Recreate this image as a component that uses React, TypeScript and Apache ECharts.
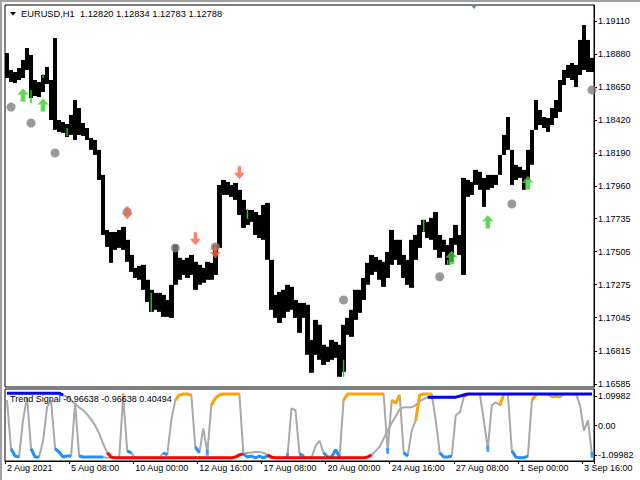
import React, { useEffect, useRef } from 'react';
import * as echarts from 'echarts';

// Price path, one entry per 4-hour column (high / low of the column)
const highs = [
  1.18887, 1.18769, 1.18755, 1.18783, 1.18839, 1.18922, 1.18873, 1.18699, 1.18685, 1.18734,
  1.18790, 1.18699, 1.18991, 1.18421, 1.18407, 1.18393, 1.18456, 1.18560, 1.18504, 1.18400,
  1.18365, 1.18296, 1.18282, 1.18213, 1.18039, 1.17656, 1.17642, 1.17642, 1.17656, 1.17677,
  1.17587, 1.17482, 1.17392, 1.17406, 1.17413, 1.17309, 1.17239, 1.17218, 1.17218, 1.17204,
  1.17169, 1.17274, 1.17552, 1.17462, 1.17448, 1.17462, 1.17482, 1.17434, 1.17413, 1.17392,
  1.17434, 1.17427, 1.17552, 1.17969, 1.18004, 1.17990, 1.17969, 1.17983, 1.17935, 1.17865,
  1.17795, 1.17795, 1.17781, 1.17760, 1.17830, 1.17844, 1.17448, 1.17204, 1.17225, 1.17239,
  1.17274, 1.17260, 1.17169, 1.17148, 1.17148, 1.17135, 1.16891, 1.17030, 1.16996, 1.16857,
  1.16843, 1.16891, 1.16877, 1.16857, 1.16996, 1.17044, 1.17100, 1.17239, 1.17239, 1.17322,
  1.17427, 1.17482, 1.17468, 1.17448, 1.17434, 1.17503, 1.17656, 1.17587, 1.17587, 1.17482,
  1.17448, 1.17587, 1.17621, 1.17691, 1.17726, 1.17712, 1.17740, 1.17781, 1.17621, 1.17587,
  1.17552, 1.17600, 1.17691, 1.17621, 1.18018, 1.18004, 1.17990, 1.18074, 1.18060, 1.18018,
  1.18039, 1.18039, 1.18039, 1.18178, 1.18317, 1.18442, 1.18213, 1.18109, 1.18095, 1.18074,
  1.18213, 1.18352, 1.18560, 1.18491, 1.18442, 1.18435, 1.18504, 1.18560, 1.18699, 1.18769,
  1.18804, 1.18818, 1.18804, 1.18978, 1.19082, 1.18978, 1.18853,
];
const lows = [
  1.18713, 1.18685, 1.18678, 1.18699, 1.18713, 1.18769, 1.18574, 1.18588, 1.18581, 1.18616,
  1.18671, 1.18421, 1.18352, 1.18338, 1.18331, 1.18303, 1.18317, 1.18282, 1.18317, 1.18310,
  1.18282, 1.18213, 1.18178, 1.18004, 1.17621, 1.17538, 1.17427, 1.17517, 1.17531, 1.17517,
  1.17434, 1.17364, 1.17322, 1.17309, 1.17239, 1.17155, 1.17086, 1.17100, 1.17086, 1.17051,
  1.17051, 1.17044, 1.17274, 1.17309, 1.17343, 1.17322, 1.17343, 1.17239, 1.17274, 1.17288,
  1.17309, 1.17309, 1.17343, 1.17531, 1.17900, 1.17900, 1.17886, 1.17865, 1.17760, 1.17670,
  1.17691, 1.17712, 1.17621, 1.17600, 1.17587, 1.17448, 1.17100, 1.17044, 1.17009, 1.17044,
  1.17086, 1.17100, 1.17044, 1.16940, 1.17044, 1.16787, 1.16662, 1.16787, 1.16752, 1.16717,
  1.16738, 1.16752, 1.16766, 1.16634, 1.16669, 1.16926, 1.16912, 1.17030, 1.17079, 1.17169,
  1.17274, 1.17343, 1.17364, 1.17309, 1.17260, 1.17322, 1.17413, 1.17448, 1.17413, 1.17322,
  1.17274, 1.17253, 1.17448, 1.17531, 1.17642, 1.17600, 1.17587, 1.17517, 1.17462, 1.17503,
  1.17413, 1.17434, 1.17552, 1.17482, 1.17343, 1.17886, 1.17900, 1.17969, 1.17935, 1.17816,
  1.17935, 1.17948, 1.17969, 1.18039, 1.18178, 1.18213, 1.17969, 1.18004, 1.18018, 1.17935,
  1.18004, 1.18109, 1.18352, 1.18386, 1.18365, 1.18338, 1.18386, 1.18435, 1.18477, 1.18664,
  1.18713, 1.18699, 1.18650, 1.18734, 1.18769, 1.18755, 1.18755,
];
// Lime coloured bars: [column, low, high]
const greenBars = [
  [6, 1.18539, 1.18630], [9, 1.18713, 1.18741], [15, 1.18310, 1.18365], [36, 1.17086, 1.17218],
  [60, 1.17733, 1.17802], [84, 1.16634, 1.16752], [104, 1.17642, 1.17726], [110, 1.17413, 1.17448],
];
// Markers: [column, price]
const grayDots = [
  [1, 1.18511], [6, 1.184], [12, 1.18192], [30, 1.17781], [42, 1.17531],
  [52, 1.17538], [84, 1.17169], [108, 1.1733], [126, 1.17837], [146, 1.1863],
];
const upArrows = [[4, 1.18595], [9, 1.18525], [111, 1.17462], [120, 1.17712], [130, 1.17983]];
const downArrows = [[30, 1.17774], [47, 1.17594], [52, 1.17503], [58, 1.18053]];

const priceTicks = ['1.16585', '1.16815', '1.17045', '1.17275', '1.17505', '1.17735', '1.17960', '1.18190', '1.18420', '1.18650', '1.18880', '1.19110'];
const timeLabels = ['2 Aug 2021', '5 Aug 08:00', '10 Aug 00:00', '12 Aug 16:00', '17 Aug 08:00', '20 Aug 00:00', '24 Aug 16:00', '27 Aug 08:00', '1 Sep 00:00', '3 Sep 16:00'];
const signalTicks = ['-1.09982', '0.00', '1.09982'];

// Trend Signal indicator
const fastSignal = [
  0.95, -0.87, -1.14, -1.18, 0.19, 1.06, -0.87, -1.18, -1.18, -0.57,
  0.68, 0.95, -0.87, -0.99, -1.18, -1.14, -1.14, 0.83, -1.14, -1.18,
  -1.18, -1.18, -1.18, -1.18, -1.18, -1.21, -1.21, -1.21, -1.21, 1.10,
  -0.95, -1.02, -1.21, -1.21, -1.21, -1.21, -1.21, -1.21, -1.21, -1.02,
  -1.10, 0.19, 0.95, 1.14, 1.18, 1.18, 1.14, -0.80, -1.02, -0.11,
  -1.02, 0.76, 1.02, 1.14, 1.18, 1.18, 1.18, 1.18, 1.18, -1.06,
  -1.18, -1.14, -1.21, -1.14, -1.21, -1.14, -1.21, -1.21, -1.21, -1.21,
  -1.14, 0.64, 0.57, -1.06, -1.14, -1.21, -1.21, -0.76, -0.57, -1.02,
  -1.18, -1.18, -0.91, -1.18, 0.95, 1.18, 1.18, 1.18, 1.18, 1.18,
  1.18, 1.18, 1.18, 1.18, 1.18, -0.95, 0.95, 0.83, 1.14, -1.02,
  -1.14, -0.19, 0.19, 1.14, 1.18, 1.18, 1.18, 0.19, -1.02, -1.18,
  -1.18, -1.14, 0.38, 0.49, 1.06, 1.18, 1.18, 1.18, 1.18, 0.19,
  -0.87, 0.76, 0.87, 0.76, 1.18, 1.18, -0.95, -1.18, -1.21, -1.21,
  -1.14, 0.95, 1.14, 1.18, 1.18, 1.18, 1.06, 1.10, 1.06, 1.18,
  1.18, 1.18, 1.18, 0.76, -0.19, 0.19, -1.10,
];
const slowSignal = [
  1.21, 1.21, 1.21, 1.21, 1.21, 1.21, 1.21, 1.21, 1.21, 1.21,
  1.21, 1.21, 1.21, 1.21, 1.14, 1.06, 0.95, 0.80, 0.68, 0.57,
  0.42, 0.23, 0.00, -0.30, -0.68, -1.02, -1.18, -1.21, -1.21, -1.21,
  -1.21, -1.21, -1.21, -1.21, -1.21, -1.21, -1.21, -1.21, -1.21, -1.21,
  -1.21, -1.21, -1.21, -1.21, -1.21, -1.21, -1.21, -1.21, -1.21, -1.21,
  -1.21, -1.21, -1.21, -1.21, -1.21, -1.21, -1.21, -1.18, -1.10, -1.06,
  -1.02, -1.01, -0.99, -0.99, -1.02, -1.10, -1.18, -1.21, -1.21, -1.21,
  -1.21, -1.21, -1.21, -1.21, -1.21, -1.21, -1.21, -1.21, -1.21, -1.21,
  -1.21, -1.21, -1.21, -1.21, -1.21, -1.21, -1.21, -1.21, -1.21, -1.21,
  -1.18, -1.10, -0.95, -0.80, -0.49, -0.19, 0.08, 0.34, 0.61, 0.68,
  0.68, 0.68, 0.76, 0.91, 0.99, 1.06, 1.06, 1.06, 1.06, 1.06,
  1.06, 1.06, 1.06, 1.10, 1.14, 1.18, 1.18, 1.18, 1.18, 1.18,
  1.18, 1.18, 1.18, 1.18, 1.18, 1.18, 1.18, 1.18, 1.18, 1.18,
  1.18, 1.18, 1.18, 1.18, 1.18, 1.18, 1.18, 1.18, 1.18, 1.18,
  1.18, 1.18, 1.18, 1.18, 1.18, 1.18, 1.18,
];
const orangeRanges = [[29, 29], [42, 46], [51, 58], [84, 94], [96, 98], [102, 106], [114, 115], [123, 124], [131, 132], [136, 138]];
const dodgerRanges = [[1, 3], [6, 8], [12, 16], [18, 24], [30, 31], [39, 40], [47, 48], [50, 50], [59, 65], [70, 70], [73, 74], [79, 83], [95, 95], [99, 100], [108, 111], [120, 120], [126, 130], [146, 146]];
const redRanges = [[25, 59], [65, 91]];
const blueRanges = [[0, 14], [105, 146]];

const FONT = 'Liberation Sans';

function mask(arr: number[], ranges: number[][]) {
  return arr.map((v, i) => (ranges.some(([a, b]) => i >= a && i <= b) ? v : null));
}
function singles(arr: number[], ranges: number[][]) {
  return ranges.filter(([a, b]) => a === b).map(([a]) => [a, arr[a]]);
}

function rangeRender(color: string, widthFrac: number, snap: boolean) {
  return (_params: any, api: any) => {
    const x = api.value(0);
    const lo = api.coord([x, api.value(1)]);
    const hi = api.coord([x, api.value(2)]);
    const w = api.size([1, 0])[0] * widthFrac;
    let left = lo[0] - w / 2;
    let right = lo[0] + w / 2;
    if (snap) {
      left = Math.floor(left);
      right = Math.ceil(right);
    }
    return {
      type: 'rect',
      shape: { x: left, y: hi[1], width: right - left, height: Math.max(1, lo[1] - hi[1]) },
      style: { fill: color },
    };
  };
}

export default function App() {
  const ref = useRef<HTMLDivElement>(null);
  useEffect(() => {
    const chart = echarts.init(ref.current!, null, { renderer: 'svg' });
    const cats = highs.map((_, i) => String(i));
    const priceValues = priceTicks.map(Number);
    const signalValues = signalTicks.map(Number);
    const upPath = 'path://M5 0 L10 5.5 L7 5.5 L7 12 L3 12 L3 5.5 L0 5.5 Z';
    const downPath = 'path://M3.5 0 L6.5 0 L6.5 6 L10 6 L5 12 L0 6 L3.5 6 Z';
    const lineBase = { type: 'line', xAxisIndex: 1, yAxisIndex: 1, showSymbol: false, connectNulls: false, silent: true };
    const dotBase = { type: 'scatter', xAxisIndex: 1, yAxisIndex: 1, symbol: 'rect', symbolSize: [3, 6], silent: true };

    chart.setOption({
      animation: false,
      backgroundColor: '#ffffff',
      textStyle: { fontFamily: FONT },
      grid: [
        { left: 5, top: 5, width: 589, height: 382, show: true, borderColor: '#000', borderWidth: 1 },
        { left: 5, top: 389, width: 589, height: 72, show: true, borderColor: '#000', borderWidth: 1 },
      ],
      xAxis: [
        {
          type: 'category', gridIndex: 0, data: cats, boundaryGap: true,
          axisLine: { show: false }, axisTick: { show: false }, axisLabel: { show: false }, splitLine: { show: false },
        },
        {
          type: 'category', gridIndex: 1, data: cats, boundaryGap: true,
          axisLine: { show: true, onZero: false, lineStyle: { color: '#000' } },
          axisTick: { show: true, interval: 15, length: 3, lineStyle: { color: '#000' } },
          axisLabel: {
            interval: 15, align: 'left', margin: 2, fontSize: 9, fontFamily: FONT, color: '#000',
            formatter: (_v: string, i: number) => timeLabels[i / 16] ?? '',
          },
          splitLine: { show: false },
        },
      ],
      yAxis: [
        {
          type: 'value', gridIndex: 0, position: 'right', min: 1.16563, max: 1.19221,
          splitLine: { show: false },
          axisLine: { show: true, lineStyle: { color: '#000' } },
          axisTick: { show: true, length: 3, customValues: priceValues, lineStyle: { color: '#000' } },
          axisLabel: {
            customValues: priceValues, margin: 4, fontSize: 9, fontFamily: FONT, color: '#000',
            formatter: (v: number) => v.toFixed(5),
          },
        },
        {
          type: 'value', gridIndex: 1, position: 'right', min: -1.3274, max: 1.3653,
          splitLine: { show: false },
          axisLine: { show: true, lineStyle: { color: '#000' } },
          axisTick: { show: true, length: 3, customValues: signalValues, lineStyle: { color: '#000' } },
          axisLabel: {
            customValues: signalValues, margin: 4, fontSize: 9, fontFamily: FONT, color: '#000',
            formatter: (v: number) => (v === 0 ? '0.00' : v.toFixed(5)),
          },
        },
      ],
      series: [
        {
          type: 'custom', xAxisIndex: 0, yAxisIndex: 0, silent: true,
          data: highs.map((h, i) => [i, lows[i], h]),
          encode: { x: 0, y: [1, 2] },
          renderItem: rangeRender('#000', 0.9, true),
          z: 2,
        },
        {
          type: 'custom', xAxisIndex: 0, yAxisIndex: 0, silent: true,
          data: greenBars,
          encode: { x: 0, y: [1, 2] },
          renderItem: rangeRender('#00e000', 0.35, false),
          z: 2,
        },
        {
          type: 'scatter', xAxisIndex: 0, yAxisIndex: 0, data: grayDots, symbol: 'circle', symbolSize: 9, silent: true,
          itemStyle: { color: '#808080' }, z: 3,
        },
        {
          type: 'scatter', xAxisIndex: 0, yAxisIndex: 0, data: upArrows, symbol: upPath, symbolSize: [11, 13], silent: true,
          itemStyle: { color: '#33cc33', borderColor: '#a8ee66', borderWidth: 0.6 }, z: 4,
        },
        {
          type: 'scatter', xAxisIndex: 0, yAxisIndex: 0, data: downArrows, symbol: downPath, symbolSize: [11, 13], silent: true,
          itemStyle: { color: '#ff6347' }, z: 4,
        },
        { ...lineBase, data: fastSignal, lineStyle: { color: '#a9a9a9', width: 2 }, z: 2 },
        { ...lineBase, data: slowSignal, lineStyle: { color: '#a9a9a9', width: 2 }, z: 2 },
        { ...lineBase, data: mask(fastSignal, dodgerRanges), lineStyle: { color: '#1e90ff', width: 3 }, z: 3 },
        { ...dotBase, data: singles(fastSignal, dodgerRanges), itemStyle: { color: '#1e90ff' }, z: 3 },
        { ...lineBase, data: mask(fastSignal, orangeRanges), lineStyle: { color: '#ffa500', width: 3 }, z: 3 },
        { ...dotBase, data: singles(fastSignal, orangeRanges), itemStyle: { color: '#ffa500' }, z: 3 },
        { ...lineBase, data: mask(slowSignal, redRanges), lineStyle: { color: '#ff0000', width: 3 }, z: 4 },
        { ...lineBase, data: mask(slowSignal, blueRanges), lineStyle: { color: '#0000ff', width: 3 }, z: 4 },
      ],
      graphic: [
        { type: 'line', shape: { x1: 0, y1: 1, x2: 640, y2: 1 }, style: { stroke: '#a0a0a0', lineWidth: 2 }, silent: true },
        { type: 'line', shape: { x1: 1, y1: 0, x2: 1, y2: 480 }, style: { stroke: '#a0a0a0', lineWidth: 2 }, silent: true },
        { type: 'polygon', shape: { points: [[10, 12], [16, 12], [13, 15.5]] }, style: { fill: '#000' }, silent: true },
        {
          type: 'text', x: 21, y: 14, silent: true,
          style: { text: 'EURUSD,H1  1.12820 1.12834 1.12783 1.12788', fontSize: 9.3, fontFamily: FONT, fill: '#000', verticalAlign: 'middle' },
        },
        { type: 'polygon', shape: { points: [[470, 4], [478, 4], [474, 9]] }, style: { fill: '#778899' }, silent: true },
        {
          type: 'text', x: 10, y: 399, z: 10, silent: true,
          style: { text: 'Trend Signal -0.96638 -0.96638 0.40494', fontSize: 9, fontFamily: FONT, fill: '#000', verticalAlign: 'middle' },
        },
      ],
    });
    return () => chart.dispose();
  }, []);
  return (
    <div
      ref={ref}
      style={{ position: 'fixed', left: 0, top: 0, width: 640, height: 480, background: '#fff' }}
    />
  );
}
